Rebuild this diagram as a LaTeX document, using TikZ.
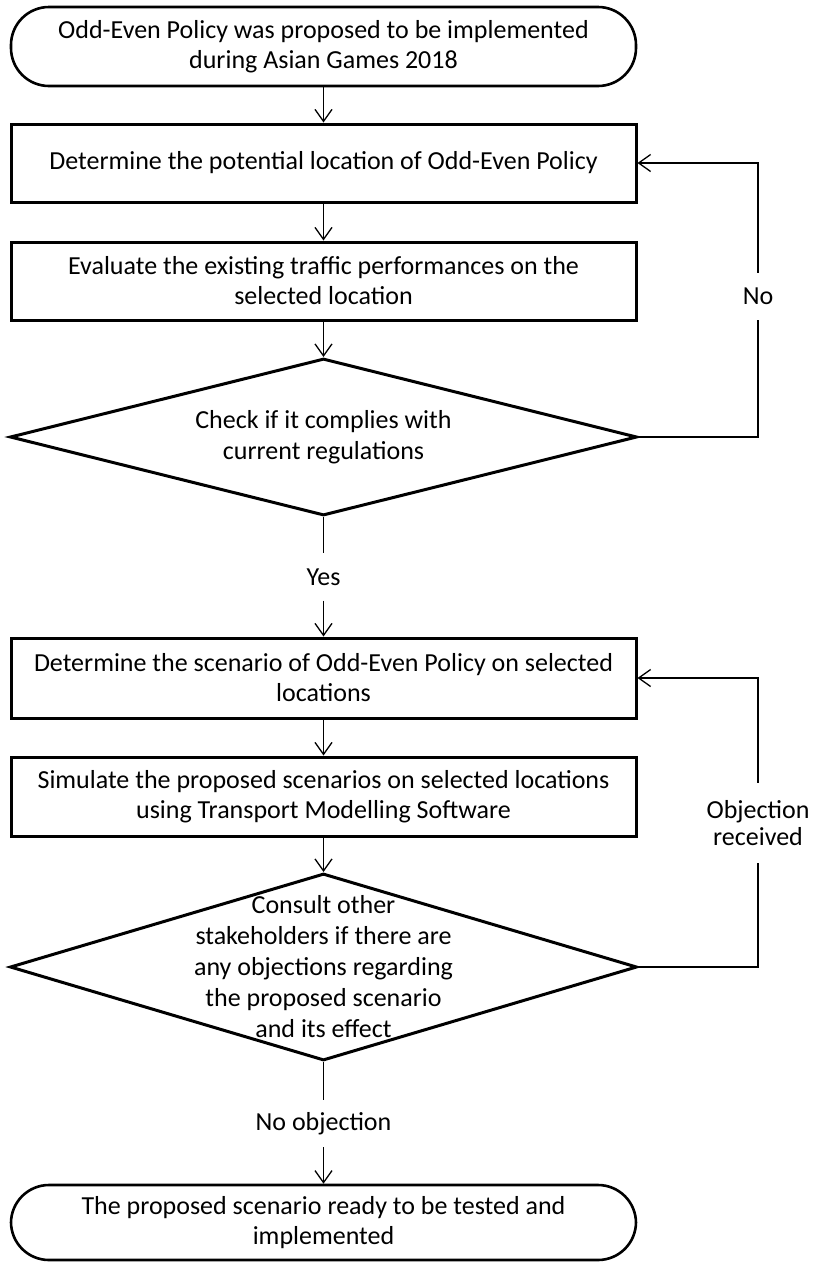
\documentclass[tikz,border=0pt]{standalone}
\usepackage{fontspec}
\setmainfont{Carlito}
\usetikzlibrary{shapes.geometric,arrows.meta}
\begin{document}
\begin{tikzpicture}[x=1pt,y=-1pt,
  every node/.style={font=\fontsize{26}{30}\selectfont},
  term/.style={draw, line width=2.6pt, rectangle, rounded corners=38pt, minimum width=625pt, align=center, inner sep=0pt},
  procbox/.style={draw, line width=3pt, rectangle, minimum width=625pt, align=center, inner sep=0pt},
  decis/.style={draw, line width=3pt, diamond, minimum width=627pt, inner sep=0pt, aspect=4},
  dtext/.style={align=center, inner sep=0pt, font=\fontsize{26}{31}\selectfont},
  lbl/.style={align=center, inner sep=0pt, minimum height=47pt},
  conn/.style={line width=1.3pt},
  arr/.style={line width=1.3pt, -{Straight Barb[length=12pt,width=17pt]}}
]
\fill[white] (0,0) rectangle (812,1262);
\useasboundingbox (0,0) rectangle (812,1262);

\node[term, minimum height=79pt] (start) at (323.5,46.5) {Odd-Even Policy was proposed to be implemented\\during Asian Games 2018};
\node[procbox, minimum height=78pt] (b1) at (323.5,163) {Determine the potential location of Odd-Even Policy};
\node[procbox, minimum height=78pt] (b2) at (323.5,281) {Evaluate the existing traffic performances on the\\selected location};
\node[decis, minimum height=157pt] (d1) at (323.5,437) {};
\node[dtext] (d1t) at (d1.center) {Check if it complies with\\current regulations};
\node[lbl] (yes) at (323.5,577) {Yes};
\node[procbox, minimum height=80pt] (b3) at (323.5,678) {Determine the scenario of Odd-Even Policy on selected\\locations};
\node[procbox, minimum height=79pt] (b4) at (323.5,796.5) {Simulate the proposed scenarios on selected locations\\using Transport Modelling Software};
\node[decis, minimum height=187pt] (d2) at (323.5,967) {};
\node[dtext] (d2t) at (d2.center) {Consult other\\stakeholders if there are\\any objections regarding\\the proposed scenario\\and its effect};
\node[lbl] (noobj) at (323.5,1123.5) {No objection};
\node[term, minimum height=75pt] (end) at (323.5,1222.5) {The proposed scenario ready to be tested and\\implemented};
\node[lbl] (no) at (758,296.5) {No};
\node[lbl, minimum height=80pt, font=\fontsize{26}{27}\selectfont] (objr) at (758,823) {Objection\\received};

\draw[arr] (start) -- (b1);
\draw[arr] (b1) -- (b2);
\draw[arr] (b2) -- (d1.north);
\draw[conn] (d1.south) -- (yes.north);
\draw[arr] (yes.south) -- (b3.north);
\draw[arr] (b3) -- (b4);
\draw[arr] (b4) -- (d2.north);
\draw[conn] (d2.south) -- (noobj.north);
\draw[arr] (noobj.south) -- (end.north);

\draw[conn] (d1.east) -- (d1.east -| no) -- (no.south);
\draw[arr] (no.north) |- (b1.east);
\draw[conn] (d2.east) -- (d2.east -| objr) -- (objr.south);
\draw[arr] (objr.north) |- (b3.east);
\end{tikzpicture}
\end{document}
